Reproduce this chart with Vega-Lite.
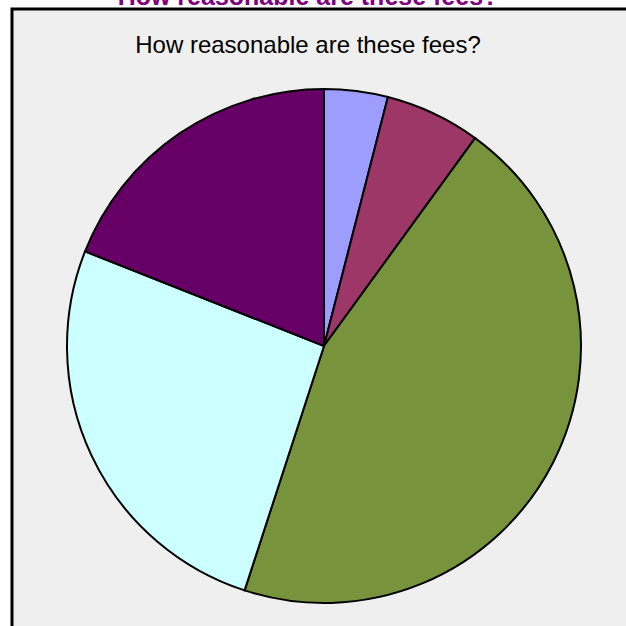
{
  "$schema": "https://vega.github.io/schema/vega-lite/v6.json",
  "description": "How reasonable are these fees? - pie of responses",
  "autosize": "none",
  "padding": {"left": 12, "top": 9, "right": 0, "bottom": 0},
  "width": 624,
  "height": 674,
  "background": "white",
  "view": {"fill": "#efefef", "stroke": "black", "strokeWidth": 3},
  "title": {
    "text": "How reasonable are these fees?",
    "subtitle": "How reasonable are these fees?",
    "orient": "top",
    "anchor": "middle",
    "offset": -49,
    "dx": -16,
    "font": "Liberation Sans",
    "fontSize": 25,
    "fontWeight": "bold",
    "color": "#800080",
    "subtitleFont": "Liberation Sans",
    "subtitleFontSize": 24,
    "subtitleColor": "black",
    "subtitlePadding": 24
  },
  "data": {
    "values": [
      {"response": "Very unreasonable", "k": 1, "percent": 4},
      {"response": "Unreasonable", "k": 2, "percent": 6},
      {"response": "Reasonable", "k": 3, "percent": 45},
      {"response": "Very reasonable", "k": 4, "percent": 26},
      {"response": "No opinion", "k": 5, "percent": 19}
    ]
  },
  "mark": {"type": "arc", "outerRadius": 257, "stroke": "black", "strokeWidth": 2},
  "encoding": {
    "theta": {"field": "percent", "type": "quantitative", "stack": true},
    "order": {"field": "k", "type": "quantitative"},
    "color": {
      "field": "response",
      "type": "nominal",
      "legend": null,
      "scale": {
        "domain": ["Very unreasonable", "Unreasonable", "Reasonable", "Very reasonable", "No opinion"],
        "range": ["#9d9dff", "#9c3768", "#77933c", "#ccffff", "#660066"]
      }
    }
  }
}
